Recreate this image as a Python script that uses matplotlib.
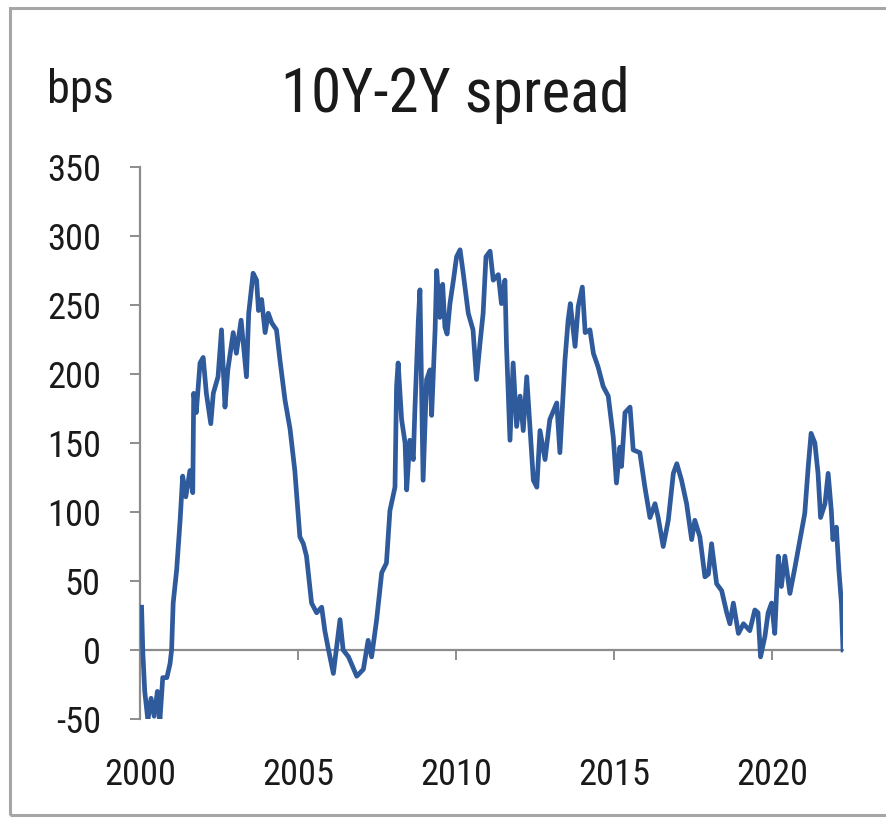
import matplotlib
matplotlib.use("Agg")
import matplotlib.pyplot as plt
import matplotlib.transforms as mtransforms
from matplotlib.patches import Rectangle
from matplotlib import font_manager as fm

plt.rcParams['font.family'] = ['Liberation Sans', 'DejaVu Sans']

# ---- data ----
years = [2000.05, 2000.09, 2000.15, 2000.25, 2000.35, 2000.45, 2000.55, 2000.63, 2000.72, 2000.85,
         2000.95, 2001.0, 2001.05, 2001.16, 2001.27, 2001.35, 2001.45, 2001.58, 2001.67, 2001.7,
         2001.78, 2001.9, 2002.0, 2002.1, 2002.24, 2002.32, 2002.47, 2002.58, 2002.69, 2002.78,
         2002.95, 2003.05, 2003.2, 2003.37, 2003.44, 2003.58, 2003.69, 2003.75, 2003.85, 2003.96,
         2004.06, 2004.17, 2004.32, 2004.43, 2004.59, 2004.75, 2004.9, 2005.06, 2005.17, 2005.27,
         2005.43, 2005.59, 2005.75, 2005.85, 2005.95, 2006.12, 2006.33, 2006.43, 2006.6, 2006.86,
         2007.07, 2007.22, 2007.33, 2007.49, 2007.65, 2007.8, 2007.91, 2008.07, 2008.12, 2008.17,
         2008.28, 2008.39, 2008.44, 2008.54, 2008.65, 2008.7, 2008.81, 2008.86, 2008.91, 2008.96,
         2009.07, 2009.18, 2009.23, 2009.34, 2009.39, 2009.49, 2009.58, 2009.65, 2009.72, 2009.81,
         2009.92, 2010.02, 2010.13, 2010.23, 2010.39, 2010.54, 2010.65, 2010.76, 2010.86, 2010.95,
         2011.08, 2011.18, 2011.34, 2011.44, 2011.55, 2011.6, 2011.71, 2011.81, 2011.92, 2012.03,
         2012.13, 2012.24, 2012.34, 2012.45, 2012.56, 2012.66, 2012.82, 2012.97, 2013.19, 2013.29,
         2013.45, 2013.55, 2013.62, 2013.77, 2013.87, 2014.0, 2014.09, 2014.24, 2014.35, 2014.5,
         2014.66, 2014.82, 2014.98, 2015.08, 2015.19, 2015.24, 2015.35, 2015.51, 2015.61, 2015.82,
         2015.98, 2016.14, 2016.3, 2016.4, 2016.56, 2016.72, 2016.88, 2016.99, 2017.14, 2017.3,
         2017.46, 2017.56, 2017.72, 2017.88, 2017.99, 2018.09, 2018.25, 2018.41, 2018.57, 2018.67,
         2018.78, 2018.94, 2019.1, 2019.3, 2019.46, 2019.56, 2019.64, 2019.78, 2019.88, 2019.99,
         2020.09, 2020.2, 2020.3, 2020.41, 2020.57, 2020.73, 2020.89, 2021.04, 2021.15, 2021.24,
         2021.36, 2021.46, 2021.54, 2021.68, 2021.78, 2021.88, 2021.93, 2022.04, 2022.12, 2022.2,
         2022.25]
spread_bps = [31, -2, -30, -51, -35, -48, -30, -51, -20, -20,
              -10, 0, 34, 58, 94, 126, 111, 130, 114, 186,
              172, 208, 212, 186, 164, 186, 198, 232, 176, 203,
              230, 215, 239, 198, 244, 273, 268, 246, 254, 230,
              244, 237, 232, 210, 181, 160, 130, 82, 77, 68,
              34, 27, 31, 14, 2, -17, 22, 0, -5, -19,
              -14, 7, -5, 22, 56, 63, 101, 118, 191, 208,
              167, 150, 116, 152, 138, 174, 239, 261, 191, 123,
              196, 203, 170, 232, 275, 241, 265, 234, 229, 251,
              268, 285, 290, 273, 244, 232, 196, 222, 244, 285,
              289, 268, 272, 251, 268, 220, 152, 208, 162, 184,
              159, 198, 162, 123, 118, 159, 138, 167, 179, 143,
              210, 239, 251, 220, 249, 263, 230, 232, 215, 205,
              191, 184, 154, 121, 147, 133, 172, 176, 145, 143,
              118, 96, 106, 96, 75, 94, 128, 135, 123, 106,
              80, 94, 82, 53, 55, 77, 48, 43, 27, 19,
              34, 12, 19, 14, 29, 27, -5, 10, 27, 34,
              12, 68, 46, 68, 41, 60, 80, 99, 133, 157,
              150, 128, 96, 106, 128, 101, 80, 89, 58, 34,
              0]

x_ticks = [2000, 2005, 2010, 2015, 2020]
x_tick_labels = ['2000', '2005', '2010', '2015', '2020']
y_ticks = [-50, 0, 50, 100, 150, 200, 250, 300, 350]
y_tick_labels = ['-50', '0', '50', '100', '150', '200', '250', '300', '350']

title_text = '10Y-2Y spread'
unit_text = 'bps'


def pick_font():
    prefs = ['Liberation Sans Narrow', 'Roboto Condensed', 'Noto Sans', 'Open Sans',
             'DejaVu Sans', 'Lato', 'Inter', 'Liberation Sans']
    cands = [f for f in fm.fontManager.ttflist
             if f.stretch in ('condensed', 'semi-condensed') and f.style == 'normal'
             and str(f.weight).lower() in ('400', 'normal', 'regular', 'book')]
    for p in prefs:
        for f in cands:
            if f.name == p and f.stretch == 'condensed':
                return fm.FontProperties(fname=f.fname)
        for f in cands:
            if f.name == p:
                return fm.FontProperties(fname=f.fname)
    return fm.FontProperties(family='Liberation Sans')


FP = pick_font()

# ---- figure ----
W, H = 887, 819
fig = plt.figure(figsize=(W / 100, H / 100), dpi=100)
fig.patch.set_facecolor('white')
renderer = fig.canvas.get_renderer()


def size_for(text, target_px, base=100.0):
    t = fig.text(0, 0, text, fontproperties=FP, fontsize=base)
    w = t.get_window_extent(renderer).width
    t.remove()
    return base * target_px / w


tick_fs = size_for('2000', 70) * 1.03
title_fs = size_for(title_text, 339) * 1.03
unit_fs = size_for(unit_text, 65) * 1.03

# outer gray frame
fig.patches.append(Rectangle((10 / W, 4 / H), 1.2, 1 - 12 / H, transform=fig.transFigure,
                             fill=False, edgecolor='#a6a6a6', linewidth=2.2, zorder=0))

ax = fig.add_axes([140 / W, (H - 719) / H, (843 - 140) / W, (719 - 167) / H])
ax.plot(years, spread_bps, color='#2f5a9c', linewidth=3.4, solid_joinstyle='round', zorder=3)

ax.set_xlim(2000, 2022.25)
ax.set_ylim(-50, 350)

axis_col = '#8c8c8c'
for s in ['top', 'right']:
    ax.spines[s].set_visible(False)
ax.spines['left'].set_color(axis_col)
ax.spines['left'].set_linewidth(1.6)
ax.spines['bottom'].set_position(('data', 0))
ax.spines['bottom'].set_color(axis_col)
ax.spines['bottom'].set_linewidth(1.6)

ax.set_yticks(y_ticks)
ax.set_yticklabels(y_tick_labels, fontproperties=FP, fontsize=tick_fs, color='#1a1a1a')
ax.set_xticks(x_ticks)
ax.tick_params(axis='y', direction='out', length=7.2, width=1.4, color=axis_col, pad=21)
ax.tick_params(axis='x', direction='out', length=7.2, width=1.4, color=axis_col,
               labelbottom=False)

trans = mtransforms.blended_transform_factory(ax.transData, fig.transFigure)
for xv, lab in zip(x_ticks, x_tick_labels):
    ax.text(xv, 1 - 785 / H, lab, transform=trans, ha='center', va='baseline',
            fontproperties=FP, fontsize=tick_fs, color='#1a1a1a', clip_on=False)

fig.text(47 / W, 1 - 103 / H, unit_text, ha='left', va='baseline',
         fontproperties=FP, fontsize=unit_fs, color='#1a1a1a')
fig.text(281 / W, 1 - 112.5 / H, title_text, ha='left', va='baseline',
         fontproperties=FP, fontsize=title_fs, color='#1a1a1a')

fig.savefig('out.png', dpi=100, facecolor='white')
